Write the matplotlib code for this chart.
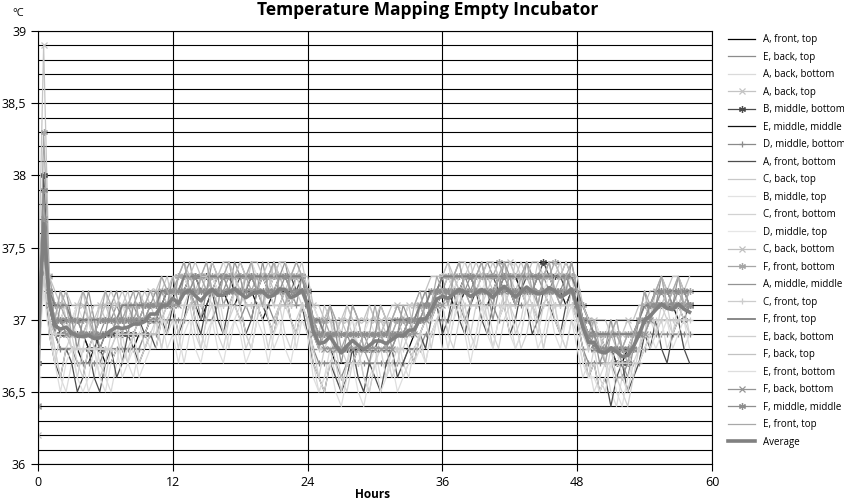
import numpy as np
import matplotlib
matplotlib.use("Agg")
import matplotlib.pyplot as plt
from matplotlib.ticker import FixedLocator

plt.rcParams['font.family'] = ['Open Sans', 'DejaVu Sans']

# sampling: one reading every half hour, 0 .. 58 h
sample_step_h = 0.5

# temperatures in tenths of a degree C (e.g. 370 = 37.0 C)
a_front_top = [370, 376, 371,
    369,368,368,368,368,367,367,368,368,367,367,368,368,368,368,369,369,370,
    370,371,371,371,
    371,372,372,371,370,371,372,372,372,371,371,372,372,372,371,370,371,372,372,372,371,372,372,
    371,
    369,368,368,368,367,367,367,367,368,368,368,368,368,368,368,368,368,368,
    369,369,370,371,371,372,
    372,371,371,372,372,372,371,371,372,372,372,372,371,372,372,372,372,372,372,372,372,371,372,
    372,370,369,
    368,368,368,368,367,367,368,368,
    368,369,370,370,
    370,370,370,370,370,370]
e_back_top = [370, 377, 372,
    371,370,371,370,370,369,370,369,369,370,370,371,370,370,371,370,371,371,
    371,372,371,372,
    372,373,372,373,373,372,373,372,372,373,373,374,373,373,372,373,373,374,373,373,372,373,373,
    372,
    370,370,369,369,370,369,369,368,369,369,368,369,369,370,369,369,370,370,
    370,371,370,371,372,372,
    373,372,373,373,372,373,373,374,373,373,372,373,373,373,374,373,373,373,372,373,373,374,373,
    372,371,370,
    369,369,368,369,369,368,369,369,
    370,370,371,371,
    372,371,372,371,372,371]
a_back_bottom = [368, 372, 370,
    368,366,365,367,369,367,365,366,368,366,365,367,369,367,366,368,369,368,
    370,368,370,371,
    369,367,369,371,369,368,370,372,370,368,370,371,369,368,370,372,370,368,369,371,370,368,370,
    369,
    367,365,366,368,366,365,367,368,366,365,367,368,366,366,368,369,367,366,
    368,369,368,370,371,370,
    368,370,372,370,368,369,371,370,368,370,372,370,368,369,371,372,370,368,370,371,369,368,370,
    368,366,367,
    365,366,367,365,364,366,367,366,
    367,369,370,369,
    370,368,369,370,368,369]
a_back_top = [371, 389, 373,
    371,371,371,370,371,371,370,370,371,370,371,371,371,370,371,371,371,372,
    372,371,372,372,
    372,373,373,372,373,373,373,372,373,373,373,372,373,373,373,373,372,373,373,373,373,372,373,
    372,
    371,370,370,370,369,370,370,369,370,370,370,370,369,370,370,371,370,371,
    371,371,371,372,372,372,
    373,373,372,373,373,373,373,372,373,373,373,374,373,373,373,372,373,373,373,373,373,373,372,
    371,370,370,
    370,369,369,369,369,369,370,369,
    370,370,371,372,
    372,372,371,372,372,371]
b_middle_bottom = [367, 380, 372,
    370,369,369,369,369,369,368,369,368,369,369,369,369,369,369,370,369,370,
    370,371,371,372,
    372,372,373,373,373,373,372,372,373,373,372,373,373,373,372,373,372,373,373,373,373,372,373,
    371,
    370,369,369,369,368,368,368,368,368,368,368,368,369,368,369,369,369,370,
    370,370,371,371,372,372,
    372,372,372,373,373,372,373,373,373,372,373,373,373,372,373,373,373,374,373,373,373,372,372,
    371,370,369,
    368,368,368,368,367,367,367,368,
    369,370,371,371,
    371,371,371,371,370,371]
e_middle_middle = [369, 375, 372,
    370,370,369,369,369,369,368,368,369,369,369,370,370,370,370,370,370,371,
    371,371,372,372,
    372,372,373,373,372,372,372,373,373,373,372,372,372,373,373,373,372,372,373,373,372,372,372,
    371,
    370,369,369,369,368,368,368,368,368,369,369,369,369,369,369,369,369,370,
    370,370,370,371,371,372,
    372,372,372,373,373,372,372,372,372,373,373,373,373,372,372,372,373,373,373,372,372,372,372,
    371,370,369,
    369,369,368,368,368,368,368,369,
    369,370,370,371,
    371,371,371,370,370,370]
d_middle_bottom = [366, 374, 370,
    369,368,368,368,367,367,367,367,367,368,368,368,368,368,368,368,369,369,
    369,370,370,370,
    370,370,371,371,371,370,370,371,371,371,371,370,371,371,371,371,371,370,371,371,371,371,371,
    370,
    368,367,367,367,367,366,367,367,367,367,367,367,367,367,367,367,367,368,
    368,368,369,369,370,370,
    370,371,371,370,371,371,371,371,371,370,371,371,371,371,371,371,370,371,371,371,371,371,371,
    370,368,367,
    367,367,367,367,366,366,367,367,
    367,368,369,369,
    369,369,369,369,369,369]
a_front_bottom = [366, 374, 369,
    367,366,368,367,365,366,368,366,365,367,368,366,367,369,368,367,368,369,
    368,370,369,371,
    369,370,372,370,369,371,372,370,369,371,372,371,369,370,372,371,370,369,371,372,370,369,371,
    369,
    367,366,365,367,366,365,366,368,366,365,367,366,365,367,368,366,367,368,
    367,369,368,370,371,369,
    370,372,370,369,371,372,370,369,371,373,371,369,370,372,371,369,370,372,371,370,369,371,372,
    370,368,366,
    367,365,366,364,366,367,365,366,
    367,369,368,370,
    368,367,369,370,368,367]
c_back_top = [372, 378, 372,
    370,372,370,369,371,372,370,369,371,372,370,369,371,372,370,371,372,371,
    370,372,373,371,
    373,374,372,371,373,374,372,371,373,374,373,371,372,374,373,371,372,374,373,372,371,373,374,
    372,
    370,369,371,370,368,369,371,370,368,369,371,370,369,368,370,371,370,371,
    369,371,372,370,372,373,
    374,372,371,373,374,372,371,373,374,373,371,372,374,373,371,372,374,372,371,373,374,372,373,
    371,370,368,
    370,369,367,369,370,368,367,369,
    370,371,370,372,
    373,371,372,373,371,372]
b_middle_top = [371, 377, 373,
    371,370,371,370,371,370,370,369,370,370,371,370,371,370,371,371,371,372,
    371,372,372,373,
    372,373,372,373,373,372,373,373,374,373,373,372,373,374,373,373,372,373,374,373,373,373,372,
    372,
    371,370,370,369,370,369,369,370,369,369,370,369,370,370,369,370,370,371,
    371,370,371,372,372,373,
    373,372,373,374,373,373,372,373,373,374,373,372,373,373,374,373,373,372,373,374,373,373,373,
    372,371,370,
    370,369,369,370,369,368,369,369,
    370,371,371,372,
    371,372,372,371,372,372]
c_front_bottom = [369, 373, 370,
    368,366,368,369,367,366,368,369,367,366,368,369,367,368,369,367,368,369,
    369,371,369,370,
    368,370,371,369,368,370,371,369,368,370,371,370,368,369,371,370,368,370,371,369,368,370,371,
    370,
    367,366,365,367,368,366,365,367,368,366,365,367,368,366,367,368,366,367,
    368,369,367,369,370,371,
    369,368,370,371,369,368,370,371,369,368,370,371,370,368,369,371,370,368,370,371,369,368,370,
    369,367,366,
    368,366,365,367,368,366,365,367,
    368,369,371,369,
    370,371,369,370,371,369]
d_middle_top = [370, 376, 372,
    370,370,370,370,369,369,369,369,370,370,370,370,370,370,370,370,370,371,
    371,371,371,372,
    372,372,372,372,372,373,373,372,372,372,372,372,373,373,372,372,372,372,372,373,372,372,372,
    371,
    370,369,369,369,369,368,368,368,369,369,369,369,369,369,369,369,369,370,
    370,370,370,371,371,372,
    372,372,372,372,372,372,373,372,372,372,372,372,372,373,373,372,372,372,372,372,372,372,372,
    371,370,369,
    369,369,368,368,368,368,368,369,
    369,370,370,371,
    371,371,371,371,371,371]
c_back_bottom = [362, 377, 372,
    370,370,369,370,370,369,370,370,370,371,370,370,370,371,370,370,371,371,
    371,372,371,372,
    372,372,373,372,372,373,372,373,373,372,373,372,373,373,372,373,373,372,373,372,373,373,372,
    371,
    370,370,369,369,369,370,369,369,368,369,369,369,370,369,369,370,369,370,
    370,371,370,371,372,372,
    372,373,372,373,373,372,373,373,372,373,373,373,372,373,373,372,373,373,373,372,373,373,372,
    371,370,369,
    369,368,369,369,368,369,369,369,
    370,370,371,371,
    371,372,371,371,372,371]
f_front_bottom = [364, 383, 373,
    371,371,370,370,370,370,370,369,370,370,370,370,370,371,370,371,371,371,
    371,372,372,372,
    373,373,373,373,373,372,373,373,373,373,373,373,373,372,373,373,373,373,373,373,373,373,373,
    372,
    370,370,370,369,369,369,369,369,369,369,369,369,369,369,369,370,370,370,
    370,371,371,372,372,373,
    373,373,373,373,373,373,373,373,373,374,373,373,373,373,373,373,373,373,373,374,373,373,373,
    372,371,370,
    369,369,369,369,369,368,369,369,
    370,371,371,372,
    372,372,372,372,371,372]
a_middle_middle = [370, 375, 371,
    369,371,372,370,368,370,372,370,368,369,371,372,370,369,371,372,370,371,
    372,370,371,373,
    371,373,374,372,370,372,374,373,371,372,374,373,371,370,372,374,372,371,373,374,372,371,373,
    371,
    369,368,370,371,369,367,369,371,370,368,367,369,371,370,368,369,371,370,
    369,371,372,370,372,373,
    371,373,374,372,371,373,374,372,370,372,374,373,371,372,374,373,371,373,374,372,371,372,374,
    372,370,368,
    369,367,368,370,368,367,366,368,
    370,372,370,371,
    373,372,371,373,372,371]
c_front_top = [367, 373, 370,
    369,369,369,368,368,368,368,368,368,368,368,369,369,369,369,369,369,370,
    370,370,371,371,
    371,371,371,371,371,372,371,371,371,371,372,372,371,371,371,371,372,371,371,371,371,372,371,
    370,
    369,368,368,368,368,368,367,367,367,368,368,368,368,368,368,368,368,369,
    369,369,370,370,371,371,
    371,371,372,371,371,371,371,372,371,371,371,371,371,372,371,371,371,371,372,371,371,371,371,
    370,369,368,
    368,368,367,367,367,367,367,368,
    368,369,370,370,
    370,370,370,370,370,370]
f_front_top = [371, 378, 372,
    371,371,371,370,370,370,370,370,370,370,370,370,371,371,371,371,371,371,
    371,372,372,372,
    372,373,373,373,373,373,373,373,373,373,373,373,373,373,373,373,373,373,373,373,373,373,373,
    372,
    370,370,369,369,369,369,369,369,369,369,369,369,369,369,370,370,370,370,
    370,371,371,372,372,373,
    373,373,373,373,373,373,373,373,373,373,373,373,373,373,373,373,373,373,373,373,373,373,373,
    372,371,370,
    369,369,369,369,369,369,369,369,
    370,371,371,372,
    372,372,372,372,372,372]
e_back_bottom = [368, 374, 370,
    367,369,370,368,366,368,370,368,366,367,369,370,368,367,369,370,368,369,
    370,368,370,371,
    369,371,372,370,368,370,372,371,369,370,372,371,369,368,370,372,370,369,371,372,370,369,371,
    370,
    368,366,368,369,367,365,367,369,368,366,365,367,369,368,366,367,369,368,
    367,369,370,368,370,371,
    369,371,372,370,369,371,372,370,368,370,372,371,369,370,372,371,369,371,372,370,369,370,372,
    370,368,366,
    367,365,366,368,366,365,364,366,
    368,370,368,369,
    371,370,369,371,370,369]
f_back_top = [372, 378, 373,
    372,371,372,371,371,371,370,371,371,371,372,371,372,371,372,372,371,372,
    372,373,372,373,
    373,374,373,374,373,373,374,373,374,374,373,374,373,374,374,373,374,373,374,374,373,374,373,
    373,
    371,371,370,371,370,370,371,370,370,370,371,370,371,370,371,371,371,371,
    371,372,372,373,373,373,
    374,373,374,374,373,374,373,374,374,373,374,374,373,374,373,374,374,373,374,374,373,374,373,
    373,371,370,
    370,370,370,369,370,370,370,370,
    371,371,372,372,
    373,372,373,373,372,373]
e_front_bottom = [367, 372, 369,
    367,365,367,368,366,365,366,368,366,365,367,368,366,367,368,366,367,368,
    368,370,368,369,
    367,369,370,368,367,369,370,368,367,369,370,369,367,368,370,369,367,369,370,368,367,369,370,
    369,
    366,365,366,367,365,364,366,367,365,364,366,367,365,366,367,365,366,367,
    367,368,367,369,370,368,
    368,370,371,369,367,369,371,369,368,370,371,369,368,369,371,370,368,369,371,369,368,370,371,
    369,367,366,
    366,365,366,367,365,364,366,367,
    367,368,369,368,
    369,370,368,369,370,368]
f_back_bottom = [364, 377, 371,
    370,370,369,369,369,369,369,369,369,369,369,370,370,370,370,370,370,370,
    370,371,371,371,
    371,372,372,372,372,372,372,372,372,372,372,372,372,372,372,372,372,372,372,372,372,372,372,
    371,
    369,369,368,368,368,368,368,368,368,368,368,368,368,368,368,369,369,369,
    369,370,370,371,371,371,
    372,372,372,372,372,372,372,372,372,372,372,372,372,372,372,372,372,372,372,372,372,372,372,
    371,370,369,
    368,368,368,368,368,368,368,368,
    369,369,370,371,
    371,371,371,371,371,371]
f_middle_middle = [367, 379, 372,
    370,370,370,370,370,369,369,369,370,370,370,370,370,370,370,370,371,371,
    371,371,372,372,
    372,372,372,373,372,372,372,372,373,372,372,372,372,373,372,372,372,372,372,373,372,372,372,
    372,
    370,369,369,369,369,369,369,369,369,369,369,369,369,369,369,369,369,370,
    370,370,371,371,372,372,
    372,372,372,372,373,372,372,372,372,372,373,372,372,372,372,372,373,372,372,372,372,373,372,
    371,370,369,
    369,368,368,368,368,368,368,368,
    369,370,371,371,
    372,372,371,372,372,371]
e_front_top = [371, 376, 372,
    370,372,371,369,370,372,371,369,370,372,371,370,369,371,372,370,371,372,
    371,373,372,371,
    373,374,372,371,373,374,372,371,373,374,372,371,373,374,372,371,373,374,372,371,373,374,373,
    372,
    370,368,369,371,370,368,369,371,370,368,369,371,369,368,370,371,370,369,
    371,372,370,371,373,372,
    371,373,374,372,371,373,374,372,371,373,374,372,371,373,374,372,371,373,374,372,371,373,374,
    372,370,369,
    370,368,367,369,370,368,367,369,
    370,372,371,372,
    373,371,372,373,371,372]

series_names = ["A, front, top", "E, back, top", "A, back, bottom", "A, back, top",
                "B, middle, bottom", "E, middle, middle", "D, middle, bottom", "A, front, bottom",
                "C, back, top", "B, middle, top", "C, front, bottom", "D, middle, top",
                "C, back, bottom", "F, front, bottom", "A, middle, middle", "C, front, top",
                "F, front, top", "E, back, bottom", "F, back, top", "E, front, bottom",
                "F, back, bottom", "F, middle, middle", "E, front, top"]
series_data = [a_front_top, e_back_top, a_back_bottom, a_back_top, b_middle_bottom,
               e_middle_middle, d_middle_bottom, a_front_bottom, c_back_top, b_middle_top,
               c_front_bottom, d_middle_top, c_back_bottom, f_front_bottom, a_middle_middle,
               c_front_top, f_front_top, e_back_bottom, f_back_top, e_front_bottom,
               f_back_bottom, f_middle_middle, e_front_top]

n = len(series_data[0])
for nm, d in zip(series_names, series_data):
    assert len(d) == n, (nm, len(d), n)

y_tick_values = [36, 36.5, 37, 37.5, 38, 38.5, 39]
y_tick_labels = ["36", "36,5", "37", "37,5", "38", "38,5", "39"]
x_tick_values = [0, 12, 24, 36, 48, 60]

# styles (colour, linewidth, marker, markersize)
star = (6, 2, 0)
styles = [
    ("#000000", 0.9, None, 0),
    ("#8c8c8c", 0.9, None, 0),
    ("#dadada", 0.9, None, 0),
    ("#c4c4c4", 0.9, "x", 4),
    ("#4a4a4a", 0.9, star, 5),
    ("#111111", 0.9, None, 0),
    ("#8a8a8a", 0.9, "+", 5),
    ("#4d4d4d", 0.9, None, 0),
    ("#c8c8c8", 0.9, None, 0),
    ("#e2e2e2", 0.9, None, 0),
    ("#d2d2d2", 0.9, None, 0),
    ("#e6e6e6", 0.9, None, 0),
    ("#c0c0c0", 0.9, "x", 4),
    ("#a6a6a6", 0.9, star, 5),
    ("#939393", 0.9, None, 0),
    ("#cccccc", 0.9, "+", 5),
    ("#7f7f7f", 1.3, None, 0),
    ("#cfcfcf", 0.9, None, 0),
    ("#c2c2c2", 0.9, None, 0),
    ("#dedede", 0.9, None, 0),
    ("#959595", 0.9, "x", 4),
    ("#8e8e8e", 0.9, star, 5),
    ("#a8a8a8", 0.9, None, 0),
]

hours = np.arange(n) * sample_step_h
temps = [np.array(d) / 10.0 for d in series_data]
average = np.mean(np.vstack(temps), axis=0)

fig = plt.figure(figsize=(8.45, 5.03), dpi=100)
ax = fig.add_axes([38 / 845, 1 - 464 / 503, (712 - 38) / 845, (464 - 31) / 503])

for nm, t, (c, lw, mk, ms) in zip(series_names, temps, styles):
    ax.plot(hours, t, color=c, lw=lw, marker=mk, ms=ms, mew=0.9, mec=c, label=nm)
ax.plot(hours, average, color="#808080", lw=2.6, label="Average")

ax.set_xlim(0, 60)
ax.set_ylim(36, 39)
ax.set_xticks(x_tick_values)
ax.set_yticks(y_tick_values)
ax.set_yticklabels(y_tick_labels)
ax.yaxis.set_minor_locator(FixedLocator(np.arange(360, 391) / 10.0))
ax.tick_params(axis='both', which='major', labelsize=9, length=5, width=0.8, color='black', direction='out')
ax.tick_params(axis='y', which='minor', length=0)
ax.grid(True, which='both', axis='y', color='black', lw=0.8)
ax.grid(True, which='major', axis='x', color='black', lw=0.8)
ax.set_axisbelow(True)
for s in ax.spines.values():
    s.set_color('black')
    s.set_linewidth(0.8)

fig.text(428 / 845, 1 - 15 / 503, "Temperature Mapping Empty Incubator", ha='center', va='baseline',
         fontsize=12.5, fontweight='bold')
fig.text(12 / 845, 1 - 14 / 503, "°C", ha='left', va='center', fontsize=8)
fig.text(373 / 845, 1 - 495 / 503, "Hours", ha='center', va='center', fontsize=8.5, fontweight='bold')

fig.legend(loc='upper left', bbox_to_anchor=(728 / 845, 1 - 34 / 503), frameon=False,
           fontsize=7, handlelength=2.8, handletextpad=0.8, labelspacing=0.67,
           borderaxespad=0, borderpad=0)

fig.savefig("out.png", dpi=100)
